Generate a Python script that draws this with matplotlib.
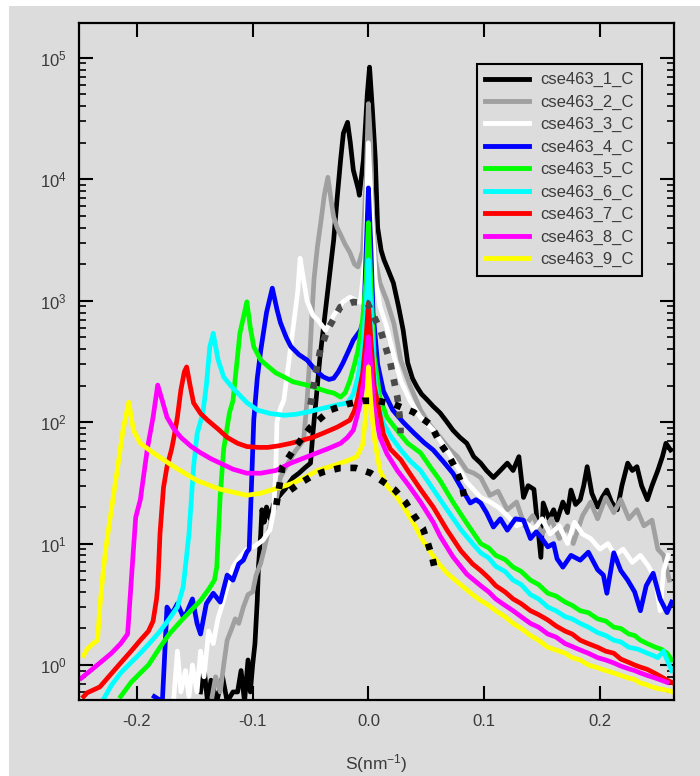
import matplotlib
matplotlib.use("Agg")
import matplotlib.pyplot as plt
from matplotlib.patches import Rectangle
from matplotlib.ticker import LogLocator, FixedLocator, NullLocator

plt.rcParams['font.family'] = ['Liberation Sans', 'DejaVu Sans']
plt.rcParams['mathtext.default'] = 'regular'
plt.rcParams['axes.unicode_minus'] = False

# ---------------- data ----------------
labels = ["cse463_1_C", "cse463_2_C", "cse463_3_C", "cse463_4_C", "cse463_5_C",
          "cse463_6_C", "cse463_7_C", "cse463_8_C", "cse463_9_C"]
colors = ["#000000", "#a0a0a0", "#ffffff", "#0000ff", "#00ff00",
          "#00ffff", "#ff0000", "#ff00ff", "#ffff00"]

s1 = [-0.145, -0.142, -0.139, -0.136, -0.131, -0.126, -0.122, -0.117, -0.113, -0.110, -0.107, -0.104, -0.102,
      -0.100, -0.098, -0.096, -0.095, -0.093, -0.092, -0.090, -0.088, -0.085, -0.082, -0.078, -0.075, -0.072,
      -0.068, -0.065, -0.060, -0.055, -0.050, -0.048, -0.045, -0.042, -0.038, -0.033, -0.030, -0.027, -0.024,
      -0.0216, -0.018, -0.0156, -0.013, -0.0086, -0.0078, -0.0043, -0.0009, 0.001, 0.0035, 0.006, 0.008,
      0.011, 0.0135, 0.017, 0.0216, 0.026, 0.030, 0.034, 0.038, 0.042, 0.046, 0.051, 0.056, 0.062, 0.068,
      0.073, 0.079, 0.085, 0.091, 0.097, 0.102, 0.108, 0.114, 0.120, 0.125, 0.130, 0.134, 0.138, 0.143,
      0.149, 0.151, 0.156, 0.160, 0.163, 0.168, 0.172, 0.175, 0.179, 0.183, 0.186, 0.189, 0.193, 0.198,
      0.202, 0.206, 0.210, 0.215, 0.219, 0.224, 0.228, 0.232, 0.236, 0.241, 0.245, 0.250, 0.254, 0.257, 0.261]
i1 = [0.6, 0.95, 0.5, 0.75, 0.5, 0.8, 0.5, 0.6, 0.6, 0.9, 0.5, 1.1, 0.6,
      1.0, 1.5, 3.4, 6.4, 12, 19, 15, 20, 16, 21, 24, 26, 28,
      32, 35, 38, 42, 46, 80, 160, 330, 700, 1800, 3160, 7000, 14500,
      24000, 29500, 20000, 11900, 8200, 7400, 14500, 51000, 84000, 37000, 14500, 4000,
      2600, 2170, 1800, 1400, 900, 575, 307, 230, 195, 170, 152, 135, 119, 100,
      86, 75, 67, 52, 46, 40, 35, 40, 46, 40, 52, 24, 30, 28,
      7.7, 21.6, 16, 19, 15.6, 22, 18, 27.6, 21, 23, 30, 43, 26, 20,
      24, 27.6, 22, 19, 30, 46, 40, 43, 30, 23, 30, 40, 52, 67, 59]

s2 = [-0.135, -0.132, -0.128, -0.125, -0.122, -0.118, -0.115, -0.112, -0.108, -0.104, -0.100, -0.097,
      -0.093, -0.090, -0.087, -0.083, -0.080, -0.076, -0.070, -0.063, -0.056, -0.053, -0.051, -0.049,
      -0.047, -0.044, -0.041, -0.038, -0.035, -0.032, -0.030, -0.027, -0.024, -0.020, -0.016, -0.012,
      -0.009, -0.005, -0.002, 0.0, 0.002, 0.003, 0.006, 0.010, 0.016, 0.022, 0.028, 0.036, 0.045,
      0.053, 0.062, 0.070, 0.077, 0.085, 0.091, 0.097, 0.105, 0.112, 0.120, 0.128, 0.135, 0.142,
      0.150, 0.158, 0.165, 0.172, 0.177, 0.185, 0.192, 0.198, 0.205, 0.212, 0.218, 0.225, 0.232,
      0.238, 0.245, 0.250, 0.255, 0.260]
i2 = [0.55, 0.8, 0.6, 1.0, 1.6, 2.0, 2.4, 2.2, 3.0, 3.8, 4.0, 5.5,
      6.9, 9, 12, 17, 22, 35, 45, 58, 71, 150, 300, 700,
      1500, 2800, 4500, 7500, 10400, 6500, 4900, 4000, 3500, 2900, 2500, 2000,
      1900, 2600, 10000, 42000, 20000, 6700, 2170, 1400, 1000, 650, 324, 200, 126,
      95, 75, 60, 52, 40, 38, 35, 25, 27, 19, 22, 14, 17,
      12, 16, 11, 14, 10, 17, 22, 16, 24, 18, 23, 16, 19,
      14, 15.6, 9, 8, 5]

s3 = [-0.168, -0.165, -0.162, -0.158, -0.155, -0.152, -0.148, -0.145, -0.142, -0.138, -0.134, -0.130,
      -0.126, -0.122, -0.117, -0.112, -0.105, -0.098, -0.091, -0.085, -0.082, -0.080, -0.079, -0.076,
      -0.073, -0.069, -0.065, -0.061, -0.059, -0.057, -0.053, -0.048, -0.044, -0.037, -0.030, -0.022,
      -0.016, -0.007, -0.003, 0.0, 0.003, 0.006, 0.010, 0.016, 0.022, 0.028, 0.036, 0.045, 0.056,
      0.070, 0.085, 0.097, 0.105, 0.112, 0.120, 0.128, 0.135, 0.143, 0.150, 0.157, 0.165, 0.172,
      0.178, 0.185, 0.192, 0.200, 0.207, 0.213, 0.220, 0.228, 0.235, 0.242, 0.248, 0.252, 0.255, 0.259]
i3 = [0.55, 1.3, 0.6, 0.9, 0.55, 1.0, 0.6, 1.3, 0.8, 1.9, 1.5, 2.4,
      3.2, 4.4, 6.4, 7.5, 9, 9.5, 10.7, 13, 18, 40, 100, 130,
      152, 300, 600, 1200, 2240, 1700, 1000, 760, 700, 570, 760, 980,
      1070, 970, 2200, 20000, 5000, 1500, 900, 600, 350, 220, 150, 110, 86,
      55, 32, 24, 22, 20, 17, 14, 15, 13, 16, 12, 14, 10,
      15, 12, 11, 9, 10, 8, 9, 7, 8, 6.5, 5, 2.8, 6, 8]

s4 = [-0.185, -0.178, -0.176, -0.174, -0.170, -0.165, -0.160, -0.157, -0.152, -0.148, -0.145, -0.140,
      -0.134, -0.128, -0.122, -0.117, -0.112, -0.108, -0.105, -0.103, -0.101, -0.099, -0.096, -0.093,
      -0.088, -0.083, -0.079, -0.076, -0.071, -0.067, -0.060, -0.053, -0.046, -0.039, -0.034, -0.030,
      -0.026, -0.022, -0.017, -0.013, -0.007, -0.004, -0.002, 0.0, 0.002, 0.004, 0.008, 0.013, 0.021,
      0.030, 0.039, 0.048, 0.056, 0.065, 0.073, 0.081, 0.088, 0.093, 0.097, 0.102, 0.108, 0.114,
      0.120, 0.127, 0.134, 0.140, 0.145, 0.149, 0.155, 0.160, 0.163, 0.168, 0.175, 0.183, 0.190,
      0.198, 0.203, 0.206, 0.212, 0.218, 0.224, 0.230, 0.235, 0.240, 0.246, 0.252, 0.258, 0.262]
i4 = [0.55, 0.5, 1.2, 3.0, 2.6, 3.2, 2.5, 2.7, 3.5, 2.2, 1.8, 3.2,
      3.9, 3.3, 5.5, 5.0, 6.8, 7.3, 8.5, 9, 30, 105, 230, 390,
      800, 1270, 850, 660, 500, 420, 360, 325, 270, 236, 225, 230,
      260, 307, 390, 475, 570, 700, 2500, 8500, 3000, 800, 300, 180, 126,
      100, 82, 68, 59, 47, 38, 28, 21.6, 23, 21.6, 18, 13.7, 16,
      12.9, 16, 15.6, 11, 12.5, 11.3, 9.4, 10, 7.5, 6.4, 8, 7.3, 8.5,
      6.1, 5.5, 3.9, 8.4, 6, 5, 4, 2.8, 4.5, 5.7, 3.5, 2.7, 3.3]

s5 = [-0.214, -0.205, -0.197, -0.190, -0.180, -0.172, -0.162, -0.155, -0.145, -0.138, -0.133, -0.131,
      -0.128, -0.125, -0.120, -0.117, -0.111, -0.105, -0.102, -0.099, -0.093, -0.087, -0.080, -0.073,
      -0.065, -0.053, -0.044, -0.035, -0.030, -0.024, -0.020, -0.016, -0.012, -0.009, -0.005, -0.002,
      0.0, 0.002, 0.005, 0.010, 0.016, 0.025, 0.034, 0.045, 0.054, 0.062, 0.073, 0.085, 0.097,
      0.104, 0.110, 0.118, 0.125, 0.132, 0.140, 0.147, 0.155, 0.162, 0.170, 0.176, 0.183, 0.190,
      0.198, 0.205, 0.212, 0.218, 0.225, 0.230, 0.235, 0.241, 0.248, 0.253, 0.258, 0.262]
i5 = [0.55, 0.72, 0.86, 1.0, 1.4, 1.8, 2.3, 2.7, 3.4, 4.2, 5.0, 6.4,
      25, 60, 120, 150, 540, 980, 600, 418, 325, 290, 255, 236,
      215, 202, 190, 178, 174, 161, 175, 220, 300, 390, 700, 1500,
      4400, 1500, 350, 160, 110, 85, 67, 56, 42, 33, 22, 14.7, 10,
      9.2, 8, 7.4, 6.4, 5.9, 5.0, 4.6, 3.9, 3.7, 3.3, 3.1, 2.8, 2.7,
      2.4, 2.3, 2.05, 2.0, 1.8, 1.75, 1.6, 1.5, 1.4, 1.35, 1.25, 1.1]

s6 = [-0.229, -0.222, -0.214, -0.205, -0.197, -0.188, -0.180, -0.172, -0.165, -0.160, -0.157, -0.155,
      -0.151, -0.148, -0.143, -0.140, -0.137, -0.134, -0.130, -0.125, -0.119, -0.113, -0.105, -0.096,
      -0.085, -0.073, -0.063, -0.053, -0.044, -0.035, -0.025, -0.018, -0.013, -0.009, -0.005, -0.002,
      0.0, 0.002, 0.005, 0.009, 0.013, 0.020, 0.028, 0.036, 0.045, 0.056, 0.068, 0.080, 0.090,
      0.097, 0.104, 0.110, 0.118, 0.125, 0.132, 0.140, 0.147, 0.155, 0.162, 0.170, 0.176, 0.183,
      0.190, 0.198, 0.205, 0.212, 0.218, 0.225, 0.233, 0.241, 0.246, 0.250, 0.255, 0.258, 0.262]
i6 = [0.52, 0.68, 0.86, 1.05, 1.25, 1.55, 1.9, 2.4, 3.0, 4.4, 8, 12,
      43, 80, 119, 200, 417, 540, 330, 236, 200, 174, 145, 126,
      118, 114, 116, 121, 127, 133, 140, 144, 170, 236, 400, 900,
      2170, 900, 250, 130, 98, 75, 59, 48, 40, 28, 19, 13, 10,
      8.4, 7.6, 6.5, 5.9, 5.0, 4.6, 3.8, 3.5, 3.0, 2.8, 2.5, 2.4, 2.2,
      2.05, 1.85, 1.75, 1.6, 1.55, 1.4, 1.35, 1.25, 1.2, 1.15, 1.3, 1.1, 0.9]

s7 = [-0.246, -0.243, -0.232, -0.222, -0.214, -0.205, -0.197, -0.190, -0.186, -0.183, -0.182, -0.180,
      -0.177, -0.174, -0.170, -0.168, -0.165, -0.162, -0.159, -0.157, -0.154, -0.151, -0.145, -0.139,
      -0.130, -0.122, -0.113, -0.105, -0.095, -0.087, -0.077, -0.067, -0.057, -0.048, -0.038, -0.027,
      -0.016, -0.012, -0.009, -0.005, -0.002, 0.0, 0.002, 0.005, 0.008, 0.013, 0.019, 0.028, 0.034,
      0.045, 0.056, 0.068, 0.080, 0.090, 0.097, 0.104, 0.110, 0.118, 0.125, 0.132, 0.140, 0.147,
      0.155, 0.162, 0.170, 0.176, 0.183, 0.190, 0.198, 0.205, 0.212, 0.218, 0.225, 0.230, 0.235,
      0.241, 0.248, 0.253, 0.258, 0.262]
i7 = [0.55, 0.59, 0.66, 0.85, 1.04, 1.3, 1.6, 1.9, 2.3, 3.5, 4.4, 12.2,
      29, 43, 60, 75, 110, 184, 260, 285, 200, 144, 118, 104,
      88, 75, 67, 63, 62, 62, 64, 67, 71, 75, 82, 91,
      104, 125, 161, 250, 500, 960, 500, 200, 144, 80, 60, 49, 40,
      28, 20, 12.9, 8.7, 6.8, 6.0, 5.2, 4.5, 4.0, 3.5, 3.2, 2.8, 2.6,
      2.35, 2.1, 1.9, 1.8, 1.6, 1.5, 1.4, 1.3, 1.25, 1.12, 1.05, 1.0, 0.96,
      0.92, 0.85, 0.8, 0.75, 0.72]

s8 = [-0.248, -0.240, -0.232, -0.222, -0.214, -0.208, -0.206, -0.203, -0.201, -0.197, -0.191, -0.186,
      -0.182, -0.178, -0.174, -0.168, -0.162, -0.153, -0.145, -0.136, -0.128, -0.117, -0.105, -0.093,
      -0.080, -0.067, -0.055, -0.044, -0.034, -0.024, -0.018, -0.013, -0.010, -0.007, -0.004, -0.002,
      0.0, 0.002, 0.005, 0.010, 0.016, 0.025, 0.035, 0.045, 0.056, 0.062, 0.073, 0.085, 0.097,
      0.104, 0.110, 0.118, 0.125, 0.132, 0.140, 0.147, 0.155, 0.162, 0.170, 0.176, 0.183, 0.190,
      0.198, 0.205, 0.212, 0.218, 0.225, 0.230, 0.235, 0.241, 0.248, 0.253, 0.258]
i8 = [0.78, 0.9, 1.04, 1.25, 1.5, 1.8, 3.4, 8.9, 16.5, 23, 60, 110,
      202, 150, 110, 88, 75, 63, 56, 50, 46, 41, 38, 38,
      40, 46, 51, 56, 61, 67, 75, 86, 110, 144, 220, 330,
      505, 300, 130, 75, 55, 40, 30, 22, 15, 11.5, 7.8, 5.6, 4.5,
      4.0, 3.5, 3.1, 2.8, 2.5, 2.2, 2.05, 1.8, 1.7, 1.5, 1.42, 1.33, 1.25,
      1.15, 1.1, 1.04, 0.98, 0.93, 0.9, 0.86, 0.82, 0.78, 0.75, 0.72]

s9 = [-0.246, -0.243, -0.238, -0.234, -0.232, -0.229, -0.227, -0.223, -0.217, -0.212, -0.207, -0.203,
      -0.197, -0.186, -0.168, -0.148, -0.128, -0.105, -0.093, -0.082, -0.067, -0.055, -0.044, -0.030,
      -0.016, -0.010, -0.005, -0.002, 0.0, 0.002, 0.005, 0.010, 0.016, 0.025, 0.032, 0.039, 0.046,
      0.054, 0.061, 0.068, 0.075, 0.082, 0.090, 0.097, 0.104, 0.110, 0.118, 0.125, 0.132, 0.140,
      0.147, 0.155, 0.162, 0.170, 0.176, 0.183, 0.190, 0.198, 0.205, 0.212, 0.218, 0.225, 0.230,
      0.235, 0.240, 0.245, 0.250, 0.258, 0.263]
i9 = [1.2, 1.35, 1.5, 1.6, 3.0, 6.0, 8.9, 16.5, 40, 86, 146, 86,
      67, 56, 43, 33, 28, 25, 26, 28, 31, 35, 40, 44,
      49, 52, 65, 120, 285, 150, 75, 40, 30, 24, 19, 14.7, 11,
      8.4, 6.8, 5.7, 5.0, 4.4, 3.8, 3.4, 3.1, 2.8, 2.5, 2.2, 2.0, 1.75,
      1.6, 1.4, 1.33, 1.25, 1.15, 1.1, 1.0, 0.95, 0.9, 0.86, 0.82, 0.78, 0.76,
      0.71, 0.69, 0.66, 0.64, 0.62, 0.60]

series_s = [s1, s2, s3, s4, s5, s6, s7, s8, s9]
series_i = [i1, i2, i3, i4, i5, i6, i7, i8, i9]

# dotted guide curves
dot_gray_s = [-0.050, -0.045, -0.0415, -0.0354, -0.0242, -0.013, -0.0009, 0.0104, 0.019, 0.025, 0.0277, 0.0277]
dot_gray_i = [139, 269, 393, 575, 889, 977, 959, 575, 307, 161, 98, 81]
dot_up_s = [-0.0795, -0.0743, -0.063, -0.050, -0.033, -0.018, -0.005, 0.008, 0.0216, 0.039, 0.054,
            0.062, 0.069, 0.075, 0.080, 0.083]
dot_up_i = [20.8, 42.8, 62.5, 91, 126, 141, 150, 150, 141, 121, 95, 67, 54, 42, 32, 24]
dot_lo_s = [-0.0674, -0.0614, -0.050, -0.039, -0.024, -0.011, 0.0017, 0.013, 0.023, 0.032, 0.039,
            0.047, 0.051, 0.055, 0.058]
dot_lo_i = [27.6, 30.4, 35.4, 38.9, 42, 42, 38.2, 32.2, 27.6, 22, 17.2, 13.4, 10.3, 7.8, 5.8]

x_ticks = [-0.2, -0.1, 0.0, 0.1, 0.2]
x_ticklabels = ["-0.2", "-0.1", "0.0", "0.1", "0.2"]
y_major = [1, 10, 100, 1000, 10000, 100000]
y_ticklabels = [r"$10^{0}$", r"$10^{1}$", r"$10^{2}$", r"$10^{3}$", r"$10^{4}$", r"$10^{5}$"]

# ---------------- figure ----------------
bg = "#dcdcdc"
fig = plt.figure(figsize=(7.0, 7.76), dpi=100, facecolor="white")
fig.patches.append(Rectangle((9 / 700, 0), 1 - 9 / 700, 1 - 6 / 776,
                             transform=fig.transFigure, facecolor=bg, edgecolor="none", zorder=-10))

ax = fig.add_axes([79 / 700, 76 / 776, (674 - 79) / 700, (700 - 23) / 776])
ax.set_facecolor(bg)

handles = []
for s, v, c, lab in zip(series_s, series_i, colors, labels):
    h, = ax.plot(s, v, color=c, lw=3.4, label=lab, solid_joinstyle="round")
    handles.append(h)

dotkw = dict(lw=4.8, linestyle=(0, (1.0, 1.45)), dash_capstyle="butt", zorder=5)
ax.plot(dot_gray_s, dot_gray_i, color="#4a4a4a", **dotkw)
ax.plot(dot_up_s, dot_up_i, color="#000000", **dotkw)
ax.plot(dot_lo_s, dot_lo_i, color="#000000", **dotkw)

ax.set_yscale("log")
ax.set_xlim(-0.25, 0.264)
ax.set_ylim(0.515, 1.94e5)

ax.xaxis.set_major_locator(FixedLocator(x_ticks))
ax.set_xticklabels(x_ticklabels)
ax.xaxis.set_minor_locator(NullLocator())
ax.yaxis.set_major_locator(FixedLocator(y_major))
ax.set_yticklabels(y_ticklabels)
ax.yaxis.set_minor_locator(LogLocator(base=10, subs=range(2, 10), numticks=20))

tcol = "#3a3a3a"
ax.tick_params(axis="both", which="major", direction="in", length=10, width=1.5,
               top=True, right=True, colors="black", labelcolor=tcol, labelsize=12)
ax.tick_params(axis="both", which="minor", direction="in", length=5, width=1.2,
               top=True, right=True, colors="black")
ax.tick_params(axis="x", which="major", pad=10)
ax.tick_params(axis="y", which="major", pad=9)
for sp in ax.spines.values():
    sp.set_linewidth(1.6)
    sp.set_color("black")

ax.set_xlabel(r"S(nm$^{-1}$)", fontsize=12.5, color=tcol, labelpad=17)

leg = ax.legend(handles=handles, loc="upper left", bbox_to_anchor=(477 / 700, 1 - 64 / 776),
                bbox_transform=fig.transFigure, borderaxespad=0, fontsize=12,
                handlelength=2.64, handletextpad=0.66, labelspacing=0.44, borderpad=0.5,
                frameon=True, fancybox=False, framealpha=1, facecolor=bg, edgecolor="black")
leg.get_frame().set_linewidth(1.5)
for h in leg.get_lines():
    h.set_linewidth(3.5)
for t in leg.get_texts():
    t.set_color(tcol)

fig.savefig("out.png", dpi=100, facecolor=fig.get_facecolor())
